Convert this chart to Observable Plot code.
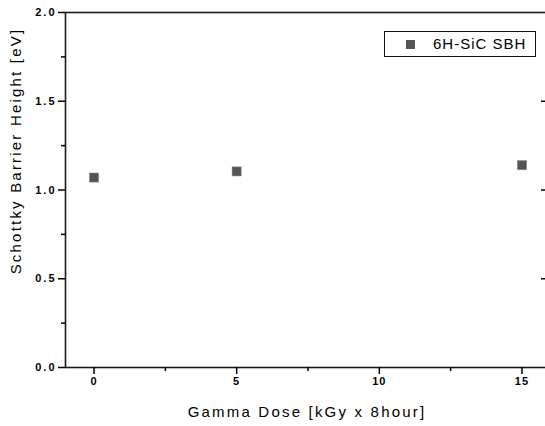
<!DOCTYPE html>
<html>
<head>
<meta charset="utf-8">
<script src="https://cdn.jsdelivr.net/npm/d3@7"></script>
<script src="https://cdn.jsdelivr.net/npm/@observablehq/plot@0.6"></script>
<style>
  html, body { margin: 0; padding: 0; background: #fff; overflow: hidden; }
  #wrap { position: relative; width: 545px; height: 426px; overflow: hidden; background: #fff; }
  #wrap svg { display: block; max-width: none !important; }
  g[aria-label="y-axis tick label"] text { letter-spacing: 2px; }
  g[aria-label="x-axis tick label"] text { letter-spacing: 1px; }
  g[aria-label="text"] text { letter-spacing: 2.2px; }
  #legend {
    position: absolute; left: 384px; top: 31px; width: 152px; height: 26px;
    box-sizing: border-box; border: 1.5px solid #111; background: #fff;
    font-family: "Liberation Sans", Arial, sans-serif; font-size: 15px; letter-spacing: 1px; color: #000;
  }
  #legend .sw { position: absolute; left: 21px; top: 7.5px; width: 9px; height: 9px; background: #555; }
  #legend .lab { position: absolute; left: 48px; top: 3px; line-height: 18px; white-space: nowrap; }
</style>
</head>
<body>
<div id="wrap"></div>
<script>
// ---- data ----
const doses = [0, 5, 15];
const sbh = [1.07, 1.105, 1.14];
const xMajorTicks = [0, 5, 10, 15];
const xMinorTicks = [2.5, 7.5, 12.5];
const yMajorTicks = [0, 0.5, 1.0, 1.5, 2.0];
const yMinorTicks = [0.25, 0.75, 1.25, 1.75];
const yRightTicks = [0.5, 1.0, 1.5];
const xLabel = "Gamma Dose [kGy x 8hour]";
const yLabel = "Schottky Barrier Height [eV]";
const seriesName = "6H-SiC SBH";

const data = doses.map((d, i) => ({dose: d, sbh: sbh[i]}));

const W = 550, H = 426;
const mL = 65, mR = 0, mT = 12, mB = 59;

const chart = Plot.plot({
  width: W,
  height: H,
  marginLeft: mL, marginRight: mR, marginTop: mT, marginBottom: mB,
  x: {domain: [-1, 16]},
  y: {domain: [0, 2]},
  style: {fontFamily: "Liberation Sans, Arial, sans-serif", fontSize: "11px", background: "#fff", color: "#000", maxWidth: "none"},
  marks: [
    Plot.frame({stroke: "#1a1a1a", strokeWidth: 1.6}),
    Plot.axisX({ticks: xMajorTicks, tickSize: 7, tickPadding: 3, tickFormat: d3.format("d"), label: null, fontWeight: "bold", fontSize: 11, strokeWidth: 1.5}),
    Plot.axisX({ticks: xMinorTicks, tickSize: 4, tickFormat: () => "", label: null, strokeWidth: 1.5}),
    Plot.axisY({ticks: yMajorTicks, tickSize: 7, tickPadding: 2, tickFormat: d3.format(".1f"), label: null, fontWeight: "bold", fontSize: 11, strokeWidth: 1.5}),
    Plot.axisY({ticks: yMinorTicks, tickSize: 4, tickFormat: () => "", label: null, strokeWidth: 1.5}),
    Plot.tickY(yRightTicks, {y: d => d, insetLeft: 541 - mL, stroke: "#000", strokeWidth: 1.5}),
    Plot.dot(data, {x: "dose", y: "sbh", symbol: "square", r: 5.1, fill: "#555", stroke: "#777", strokeWidth: 0.5}),
    Plot.text([yLabel], {text: d => d, frameAnchor: "left", textAnchor: "middle", lineAnchor: "middle", rotate: -90, dx: -49, dy: -39, fontSize: 15, fill: "#000"}),
    Plot.text([xLabel], {text: d => d, frameAnchor: "bottom", textAnchor: "middle", lineAnchor: "middle", dx: -1, dy: 45, fontSize: 15, fill: "#000"})
  ]
});

const wrap = document.getElementById("wrap");
wrap.appendChild(chart);

const legend = document.createElement("div");
legend.id = "legend";
legend.innerHTML = `<div class="sw"></div><div class="lab"></div>`;
legend.querySelector(".lab").textContent = seriesName;
wrap.appendChild(legend);
</script>
</body>
</html>
